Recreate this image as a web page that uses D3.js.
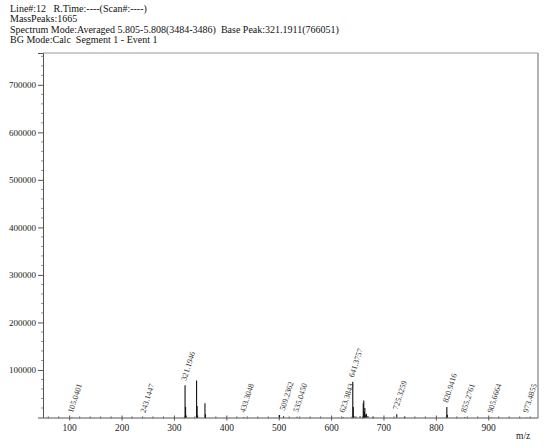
<!DOCTYPE html>
<html><head><meta charset="utf-8">
<script src="https://cdn.jsdelivr.net/npm/d3@7"></script>
<style>body{margin:0;background:#fff}svg{display:block}</style>
</head><body>
<svg id="c" width="550" height="448"></svg>
<script>
const headerLines = [
  "Line#:12   R.Time:----(Scan#:----)",
  "MassPeaks:1665",
  "Spectrum Mode:Averaged 5.805-5.808(3484-3486)  Base Peak:321.1911(766051)",
  "BG Mode:Calc  Segment 1 - Event 1"
];
const peakMz = [105.04, 243.14, 321.19, 322.2, 323.2, 343.2, 344.2, 345.2, 359.2, 360.2, 433.3, 501.3, 509.24, 535.05, 623.38, 641.38, 642.38, 643.4, 647.4, 655.3, 661.4, 662.4, 663.4, 664.4, 665.4, 667.4, 670.3, 680.3, 725.33, 741.3, 820.94, 821.94, 855.28, 905.67, 973.49];
const peakInt = [600, 500, 68000, 22000, 4000, 78000, 24000, 4000, 30000, 7000, 800, 5000, 2500, 1500, 1200, 75000, 22000, 3000, 2000, 2500, 30000, 36000, 12000, 20000, 6000, 8000, 3000, 1500, 7000, 1500, 22000, 6000, 800, 600, 500];
const labelMz = [105.0401, 243.1447, 321.1946, 433.3048, 509.2362, 535.0450, 623.3843, 641.3757, 725.3259, 820.9416, 855.2761, 905.6664, 973.4855];
const labelInt = [600, 500, 68000, 800, 5000, 1500, 1200, 75000, 7000, 22000, 800, 600, 500];
const xTicks = [100, 200, 300, 400, 500, 600, 700, 800, 900];
const yTicks = [100000, 200000, 300000, 400000, 500000, 600000, 700000];

const svg = d3.select("#c");
const L = 43, R = 538, T = 53, B = 417.5;
const x = d3.scaleLinear().domain([50, 995]).range([L, R]);
const y = d3.scaleLinear().domain([0, 767000]).range([B, T]);
const font = "'Liberation Serif', 'Times New Roman', serif";

// header
svg.selectAll("text.hdr").data(headerLines).join("text")
  .attr("class","hdr")
  .attr("x", 10).attr("y", (d,i) => 12 + i*10.3)
  .attr("font-family", font).attr("font-size", 10).attr("fill", "#111")
  .attr("xml:space","preserve")
  .text(d => d);

// frame top and right
svg.append("line").attr("x1", L).attr("x2", R).attr("y1", T).attr("y2", T).attr("stroke", "#999").attr("stroke-width", 1);
svg.append("line").attr("x1", R).attr("x2", R).attr("y1", T).attr("y2", B).attr("stroke", "#999").attr("stroke-width", 1.5);

// y axis
const yAxis = d3.axisLeft(y).tickValues(yTicks).tickFormat(d3.format("d")).tickSize(5);
const gy = svg.append("g").attr("transform", `translate(${L},0)`).call(yAxis);
gy.select(".domain").attr("stroke", "#555");
gy.selectAll(".tick line").attr("stroke", "#555");
gy.selectAll(".tick text").attr("font-family", font).attr("font-size", 9).attr("fill", "#222").attr("dx", 1);
const yMinor = d3.range(20000, 767000, 20000).filter(v => v % 100000 !== 0);
svg.append("g").selectAll("line").data(yMinor).join("line")
  .attr("x1", L-2).attr("x2", L).attr("y1", d => y(d)).attr("y2", d => y(d))
  .attr("stroke", "#777").attr("stroke-width", 0.8);

// x axis
const xAxis = d3.axisBottom(x).tickValues(xTicks).tickFormat(d3.format("d")).tickSize(3).tickSizeOuter(0);
const gx = svg.append("g").attr("transform", `translate(0,${B})`).call(xAxis);
gx.select(".domain").attr("stroke", "#555");
gx.selectAll(".tick line").attr("stroke", "#555").attr("y1", -2);
gx.selectAll(".tick text").attr("font-family", font).attr("font-size", 9.5).attr("fill", "#222").attr("dy", "0.75em");
const xMinor = d3.range(60, 995, 20).filter(v => v % 100 !== 0);
svg.append("g").selectAll("line").data(xMinor).join("line")
  .attr("x1", d => x(d)).attr("x2", d => x(d)).attr("y1", B-1.5).attr("y2", B+1.5)
  .attr("stroke", "#777").attr("stroke-width", 0.8);
svg.append("text").attr("x", 516).attr("y", 439).attr("font-family", font).attr("font-size", 9.5).attr("fill", "#222").text("m/z");

// peaks
svg.append("g").selectAll("line").data(peakMz).join("line")
  .attr("x1", d => x(d)).attr("x2", d => x(d))
  .attr("y1", B).attr("y2", (d,i) => y(peakInt[i]))
  .attr("stroke", "#111").attr("stroke-width", 1.1);

// labels
svg.append("g").selectAll("text").data(labelMz).join("text")
  .attr("transform", (d,i) => `translate(${x(d)+1},${y(labelInt[i]) - 4}) rotate(-72)`)
  .attr("font-family", font).attr("font-size", 8).attr("fill", "#333")
  .text(d => d.toFixed(4));
</script>
</body></html>
